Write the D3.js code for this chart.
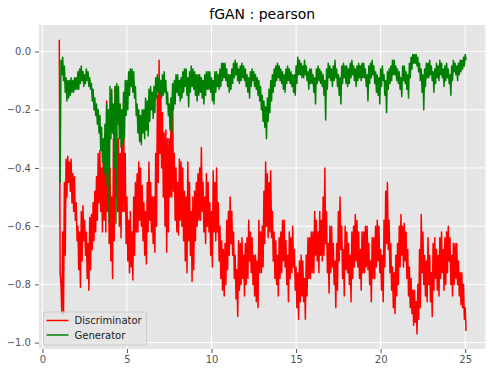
<!DOCTYPE html>
<html>
<head>
<meta charset="utf-8">
<script src="https://cdn.jsdelivr.net/npm/d3@7"></script>
<style>
  body { margin: 0; background: #fff; }
  svg { display: block; font-family: "DejaVu Sans", sans-serif; }
</style>
</head>
<body>
<svg id="chart" width="495" height="374"></svg>
<script>
const chartTitle = "fGAN : pearson";
const seriesNames = ["Discriminator", "Generator"];
const seriesColors = ["red", "green"];
const xTicks = [0, 5, 10, 15, 20, 25];
const yTicks = [0.0, -0.2, -0.4, -0.6, -0.8, -1.0];
const xStart = 1, xEnd = 25; // epochs covered by the samples

// The losses are very noisy: for every 0.1 epoch the top and the bottom
// of the band that the line fills.
const discHigh = [
  0.04,-0.80,-0.62,-0.45,-0.37,-0.36,-0.38,-0.37,-0.42,-0.43,
  -0.52,-0.60,-0.62,-0.55,-0.53,-0.58,-0.62,-0.66,-0.57,-0.56,
  -0.52,-0.48,-0.43,-0.35,-0.34,-0.40,-0.35,-0.30,-0.17,-0.25,
  -0.40,-0.50,-0.30,-0.12,-0.25,-0.30,-0.35,-0.28,-0.17,-0.35,
  -0.50,-0.58,-0.55,-0.62,-0.50,-0.45,-0.42,-0.38,-0.40,-0.46,
  -0.52,-0.55,-0.45,-0.38,-0.45,-0.50,-0.50,-0.35,-0.15,-0.03,
  -0.15,-0.21,-0.28,-0.27,-0.30,-0.30,-0.25,-0.14,-0.35,-0.40,
  -0.45,-0.37,-0.38,-0.40,-0.48,-0.50,-0.38,-0.45,-0.55,-0.50,
  -0.48,-0.45,-0.42,-0.40,-0.33,-0.45,-0.50,-0.42,-0.45,-0.52,
  -0.55,-0.41,-0.45,-0.40,-0.52,-0.60,-0.65,-0.68,-0.66,-0.58,
  -0.55,-0.50,-0.55,-0.62,-0.70,-0.75,-0.65,-0.66,-0.64,-0.70,
  -0.66,-0.64,-0.58,-0.62,-0.64,-0.70,-0.70,-0.72,-0.58,-0.62,
  -0.60,-0.48,-0.38,-0.42,-0.45,-0.41,-0.55,-0.62,-0.65,-0.70,
  -0.64,-0.62,-0.58,-0.58,-0.65,-0.70,-0.62,-0.64,-0.60,-0.68,
  -0.74,-0.76,-0.72,-0.70,-0.72,-0.78,-0.70,-0.64,-0.64,-0.62,
  -0.62,-0.55,-0.58,-0.62,-0.55,-0.58,-0.50,-0.40,-0.55,-0.66,
  -0.60,-0.60,-0.66,-0.72,-0.66,-0.55,-0.50,-0.60,-0.68,-0.60,
  -0.62,-0.66,-0.70,-0.62,-0.60,-0.56,-0.58,-0.62,-0.68,-0.62,
  -0.62,-0.60,-0.60,-0.66,-0.72,-0.64,-0.64,-0.60,-0.58,-0.60,
  -0.68,-0.70,-0.58,-0.48,-0.45,-0.58,-0.66,-0.74,-0.76,-0.70,
  -0.66,-0.60,-0.56,-0.60,-0.59,-0.62,-0.68,-0.74,-0.78,-0.82,
  -0.82,-0.86,-0.80,-0.68,-0.56,-0.62,-0.70,-0.72,-0.64,-0.70,
  -0.76,-0.66,-0.64,-0.68,-0.70,-0.64,-0.62,-0.68,-0.64,-0.62,
  -0.60,-0.64,-0.70,-0.66,-0.66,-0.66,-0.72,-0.76,-0.76,-0.80,
  -0.88
];
const discLow = [
  -0.76,-0.90,-0.90,-0.70,-0.50,-0.45,-0.48,-0.52,-0.55,-0.58,
  -0.65,-0.75,-0.81,-0.72,-0.65,-0.70,-0.78,-0.82,-0.75,-0.68,
  -0.65,-0.62,-0.58,-0.52,-0.55,-0.62,-0.58,-0.62,-0.55,-0.66,
  -0.72,-0.78,-0.65,-0.50,-0.55,-0.60,-0.64,-0.55,-0.55,-0.66,
  -0.72,-0.76,-0.74,-0.785,-0.70,-0.62,-0.62,-0.58,-0.60,-0.65,
  -0.70,-0.73,-0.62,-0.58,-0.62,-0.66,-0.69,-0.60,-0.45,-0.35,
  -0.40,-0.50,-0.60,-0.69,-0.62,-0.50,-0.50,-0.48,-0.58,-0.62,
  -0.63,-0.58,-0.60,-0.65,-0.72,-0.76,-0.65,-0.70,-0.79,-0.75,
  -0.65,-0.60,-0.58,-0.58,-0.55,-0.62,-0.66,-0.60,-0.62,-0.70,
  -0.74,-0.62,-0.65,-0.62,-0.72,-0.78,-0.82,-0.84,-0.80,-0.75,
  -0.70,-0.66,-0.70,-0.78,-0.85,-0.91,-0.82,-0.80,-0.78,-0.84,
  -0.80,-0.78,-0.72,-0.76,-0.80,-0.84,-0.86,-0.88,-0.76,-0.76,
  -0.74,-0.66,-0.60,-0.64,-0.62,-0.64,-0.72,-0.78,-0.80,-0.84,
  -0.78,-0.76,-0.72,-0.74,-0.80,-0.86,-0.78,-0.76,-0.74,-0.82,
  -0.88,-0.92,-0.86,-0.84,-0.86,-0.92,-0.84,-0.78,-0.78,-0.76,
  -0.76,-0.70,-0.72,-0.76,-0.70,-0.72,-0.70,-0.66,-0.76,-0.83,
  -0.76,-0.74,-0.80,-0.88,-0.82,-0.72,-0.68,-0.78,-0.84,-0.75,
  -0.76,-0.80,-0.86,-0.78,-0.74,-0.72,-0.74,-0.78,-0.82,-0.76,
  -0.76,-0.74,-0.75,-0.80,-0.86,-0.78,-0.78,-0.74,-0.72,-0.76,
  -0.82,-0.86,-0.74,-0.66,-0.68,-0.76,-0.82,-0.88,-0.90,-0.84,
  -0.80,-0.74,-0.70,-0.74,-0.72,-0.78,-0.84,-0.88,-0.90,-0.94,
  -0.93,-0.97,-0.92,-0.88,-0.76,-0.80,-0.84,-0.86,-0.80,-0.86,
  -0.91,-0.82,-0.78,-0.82,-0.84,-0.78,-0.76,-0.82,-0.80,-0.76,
  -0.72,-0.80,-0.84,-0.80,-0.78,-0.80,-0.84,-0.87,-0.88,-0.92,
  -0.96
];

const genHigh = [
  -0.45,-0.03,-0.02,-0.05,-0.09,-0.10,-0.10,-0.09,-0.10,-0.09,
  -0.09,-0.07,-0.06,-0.05,-0.07,-0.08,-0.06,-0.07,-0.09,-0.11,
  -0.13,-0.16,-0.18,-0.20,-0.22,-0.26,-0.30,-0.25,-0.18,-0.20,
  -0.12,-0.13,-0.18,-0.12,-0.11,-0.12,-0.18,-0.20,-0.14,-0.10,
  -0.10,-0.07,-0.06,-0.06,-0.07,-0.12,-0.18,-0.20,-0.22,-0.20,
  -0.20,-0.16,-0.17,-0.13,-0.12,-0.14,-0.12,-0.09,-0.08,-0.09,
  -0.10,-0.08,-0.07,-0.10,-0.14,-0.18,-0.16,-0.11,-0.10,-0.08,
  -0.08,-0.10,-0.09,-0.07,-0.06,-0.06,-0.09,-0.07,-0.05,-0.06,
  -0.07,-0.08,-0.08,-0.08,-0.09,-0.10,-0.08,-0.07,-0.07,-0.07,
  -0.09,-0.10,-0.07,-0.07,-0.08,-0.06,-0.04,-0.04,-0.04,-0.06,
  -0.08,-0.08,-0.06,-0.04,-0.03,-0.04,-0.06,-0.05,-0.04,-0.05,
  -0.06,-0.08,-0.09,-0.07,-0.06,-0.07,-0.08,-0.09,-0.10,-0.12,
  -0.15,-0.17,-0.19,-0.16,-0.13,-0.10,-0.08,-0.06,-0.05,-0.04,
  -0.05,-0.06,-0.07,-0.08,-0.06,-0.05,-0.06,-0.07,-0.08,-0.08,
  -0.05,-0.02,-0.03,-0.04,-0.05,-0.03,-0.05,-0.07,-0.06,-0.06,
  -0.08,-0.09,-0.06,-0.05,-0.06,-0.07,-0.08,-0.10,-0.06,-0.04,
  -0.05,-0.06,-0.05,-0.03,-0.06,-0.08,-0.09,-0.05,-0.04,-0.05,
  -0.05,-0.06,-0.04,-0.03,-0.05,-0.06,-0.05,-0.04,-0.05,-0.04,
  -0.04,-0.06,-0.08,-0.05,-0.04,-0.03,-0.05,-0.07,-0.08,-0.09,
  -0.06,-0.05,-0.08,-0.10,-0.07,-0.06,-0.05,-0.03,-0.03,-0.05,
  -0.06,-0.07,-0.09,-0.05,-0.05,-0.07,-0.08,-0.04,-0.02,-0.01,
  -0.01,-0.01,-0.02,-0.04,-0.06,-0.08,-0.06,-0.04,-0.04,-0.03,
  -0.05,-0.07,-0.06,-0.04,-0.05,-0.03,-0.04,-0.06,-0.05,-0.04,
  -0.06,-0.08,-0.05,-0.03,-0.04,-0.05,-0.04,-0.03,-0.03,-0.02,
  -0.01
];
const genLow = [
  -0.45,-0.08,-0.10,-0.14,-0.17,-0.16,-0.15,-0.14,-0.14,-0.13,
  -0.13,-0.13,-0.11,-0.10,-0.12,-0.11,-0.10,-0.12,-0.13,-0.17,
  -0.20,-0.22,-0.25,-0.28,-0.34,-0.38,-0.42,-0.46,-0.40,-0.59,
  -0.30,-0.28,-0.40,-0.59,-0.25,-0.30,-0.33,-0.32,-0.30,-0.22,
  -0.20,-0.15,-0.12,-0.14,-0.16,-0.22,-0.28,-0.31,-0.32,-0.28,
  -0.30,-0.27,-0.29,-0.24,-0.20,-0.23,-0.21,-0.16,-0.14,-0.15,
  -0.16,-0.15,-0.14,-0.18,-0.22,-0.27,-0.28,-0.20,-0.18,-0.14,
  -0.15,-0.17,-0.16,-0.14,-0.12,-0.15,-0.19,-0.14,-0.12,-0.13,
  -0.15,-0.17,-0.15,-0.14,-0.16,-0.18,-0.15,-0.13,-0.13,-0.14,
  -0.17,-0.18,-0.14,-0.12,-0.13,-0.12,-0.10,-0.09,-0.10,-0.12,
  -0.14,-0.13,-0.11,-0.09,-0.08,-0.10,-0.11,-0.10,-0.09,-0.10,
  -0.12,-0.14,-0.16,-0.12,-0.10,-0.12,-0.13,-0.15,-0.17,-0.20,
  -0.24,-0.26,-0.30,-0.24,-0.21,-0.17,-0.14,-0.12,-0.10,-0.09,
  -0.10,-0.11,-0.13,-0.14,-0.11,-0.10,-0.11,-0.12,-0.14,-0.15,
  -0.11,-0.08,-0.08,-0.09,-0.09,-0.08,-0.10,-0.13,-0.11,-0.11,
  -0.14,-0.18,-0.11,-0.10,-0.11,-0.12,-0.15,-0.235,-0.13,-0.09,
  -0.10,-0.12,-0.10,-0.09,-0.12,-0.15,-0.18,-0.11,-0.09,-0.11,
  -0.12,-0.11,-0.09,-0.08,-0.10,-0.12,-0.10,-0.09,-0.10,-0.09,
  -0.09,-0.12,-0.17,-0.11,-0.09,-0.08,-0.11,-0.14,-0.15,-0.18,
  -0.12,-0.10,-0.15,-0.21,-0.13,-0.11,-0.10,-0.08,-0.08,-0.10,
  -0.11,-0.13,-0.155,-0.10,-0.11,-0.13,-0.16,-0.09,-0.06,-0.04,
  -0.04,-0.05,-0.07,-0.10,-0.14,-0.20,-0.12,-0.09,-0.09,-0.08,
  -0.10,-0.14,-0.11,-0.09,-0.10,-0.08,-0.09,-0.12,-0.10,-0.09,
  -0.11,-0.15,-0.10,-0.07,-0.08,-0.10,-0.08,-0.07,-0.06,-0.05,
  -0.03
];

const svg = d3.select('#chart');
const plot = { left: 39, top: 25, right: 485.5, bottom: 349 };

const x = d3.scaleLinear().domain([-0.2, 26.2]).range([plot.left, plot.right]);
const y = d3.scaleLinear().domain([-1.022, 0.091]).range([plot.bottom, plot.top]);

// sample index -> epoch
const epoch = d3.scaleLinear().domain([0, discHigh.length - 1]).range([xStart, xEnd]);
const half = (xEnd - xStart) / (discHigh.length - 1) / 2;

// the line goes top, bottom, top, bottom ... through the band
function zigzag(high, low) {
  return high.flatMap((h, i) => [[epoch(i), h], [epoch(i) + half, low[i]]]);
}

// Background
svg.append('rect')
  .attr('x', plot.left).attr('y', plot.top)
  .attr('width', plot.right - plot.left)
  .attr('height', plot.bottom - plot.top)
  .attr('fill', '#e5e5e5');

// Grid
svg.append('g').selectAll('line')
  .data(xTicks)
  .enter().append('line')
  .attr('x1', d => x(d)).attr('x2', d => x(d))
  .attr('y1', plot.top).attr('y2', plot.bottom)
  .attr('stroke', '#fff').attr('stroke-width', 1);

svg.append('g').selectAll('line')
  .data(yTicks)
  .enter().append('line')
  .attr('x1', plot.left).attr('x2', plot.right)
  .attr('y1', d => y(d)).attr('y2', d => y(d))
  .attr('stroke', '#fff').attr('stroke-width', 1);

// Axes
const xAxis = svg.append('g')
  .attr('transform', `translate(0,${plot.bottom})`)
  .call(d3.axisBottom(x).tickValues(xTicks).tickFormat(d3.format('d')).tickSize(4).tickPadding(3));

const yAxis = svg.append('g')
  .attr('transform', `translate(${plot.left},0)`)
  .call(d3.axisLeft(y).tickValues(yTicks).tickFormat(d3.format('.1f')).tickSize(4).tickPadding(4));

[xAxis, yAxis].forEach(a => {
  a.select('.domain').remove();
  a.selectAll('.tick line').attr('stroke', '#555');
  a.selectAll('.tick text')
    .attr('fill', '#555')
    .style('font-size', '10px')
    .style('font-family', '"DejaVu Sans", sans-serif');
});

// Lines
const line = d3.line()
  .x(d => x(d[0]))
  .y(d => y(d[1]));

[zigzag(discHigh, discLow), zigzag(genHigh, genLow)].forEach((pts, k) => {
  svg.append('path')
    .datum(pts)
    .attr('d', line)
    .attr('fill', 'none')
    .attr('stroke', seriesColors[k])
    .attr('stroke-width', 1.5)
    .attr('stroke-linejoin', 'round');
});

// Title
svg.append('text')
  .attr('x', (plot.left + plot.right) / 2)
  .attr('y', 19)
  .attr('text-anchor', 'middle')
  .style('font-size', '14px')
  .attr('fill', '#000')
  .text(chartTitle);

// Legend
const legend = svg.append('g').attr('transform', 'translate(43.5,312)');
legend.append('rect')
  .attr('width', 103).attr('height', 33).attr('rx', 2)
  .attr('fill', '#e5e5e5').attr('fill-opacity', 0.8)
  .attr('stroke', '#ccc').attr('stroke-width', 1);

seriesNames.forEach((name, i) => {
  const row = legend.append('g').attr('transform', `translate(0,${8.5 + i * 14.5})`);
  row.append('line')
    .attr('x1', 3).attr('x2', 25)
    .attr('stroke', seriesColors[i]).attr('stroke-width', 1.5);
  row.append('text')
    .attr('x', 31).attr('dy', '0.35em')
    .style('font-size', '10px')
    .attr('fill', '#222')
    .text(name);
});
</script>
</body>
</html>
